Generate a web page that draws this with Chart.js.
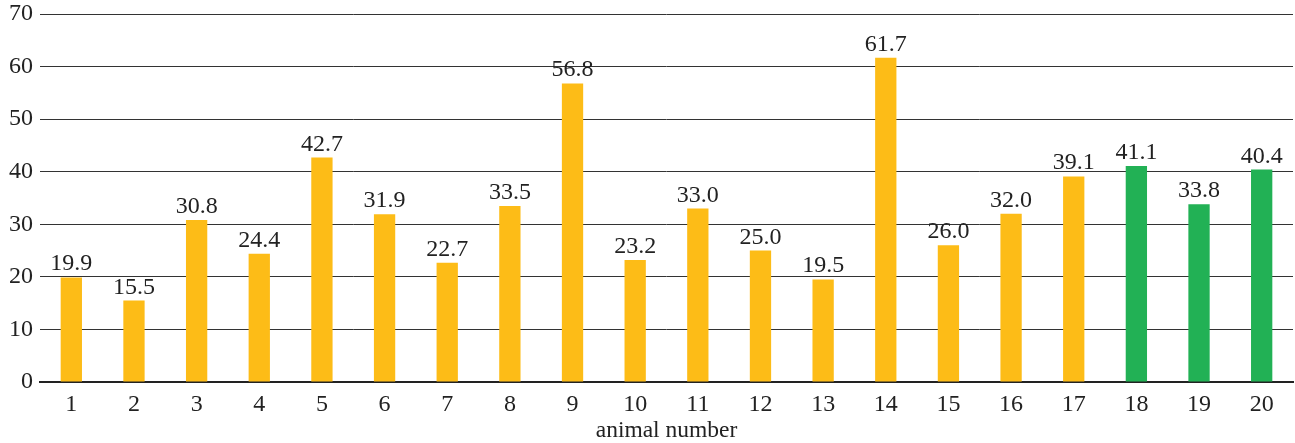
<!DOCTYPE html>
<html>
<head>
<meta charset="utf-8">
<script src="https://cdn.jsdelivr.net/npm/chart.js@4"></script>
<style>
  html, body { margin: 0; padding: 0; background: #fff; }
  #wrap { width: 1295px; height: 443px; }
</style>
</head>
<body>
<div id="wrap"><canvas id="chart"></canvas></div>
<script>
// datos
const animales = ['1', '2', '3', '4', '5', '6', '7', '8', '9', '10', '11', '12', '13', '14', '15', '16', '17', '18', '19', '20'];
const valores = [19.9, 15.5, 30.8, 24.4, 42.7, 31.9, 22.7, 33.5, 56.8, 23.2, 33.0, 25.0, 19.5, 61.7, 26.0, 32.0, 39.1, 41.1, 33.8, 40.4];
const grupos = ['y', 'y', 'y', 'y', 'y', 'y', 'y', 'y', 'y', 'y', 'y', 'y', 'y', 'y', 'y', 'y', 'y', 'g', 'g', 'g'];
const ticksY = [0, 10, 20, 30, 40, 50, 60, 70];

const colores = { y: '#FDBC17', g: '#22B155' };
const fuente = '"Liberation Serif", "Times New Roman", serif';

// etiquetas encima de cada barra
const etiquetas = {
    id: 'etiquetas',
    afterDatasetsDraw(chart) {
        const ctx = chart.ctx;
        const meta = chart.getDatasetMeta(0);
        ctx.save();
        ctx.font = '24px ' + fuente;
        ctx.fillStyle = '#222';
        ctx.textAlign = 'center';
        ctx.textBaseline = 'alphabetic';
        meta.data.forEach((bar, i) => {
            ctx.fillText(valores[i].toFixed(1), bar.x, bar.y - 7);
        });
        ctx.restore();
    }
};

new Chart(document.getElementById('chart'), {
    type: 'bar',
    data: {
        labels: animales,
        datasets: [{
            data: valores,
            backgroundColor: grupos.map(g => colores[g]),
            categoryPercentage: 1,
            barPercentage: 0.34
        }]
    },
    options: {
        responsive: true,
        maintainAspectRatio: false,
        animation: false,
        layout: { padding: { top: 14, right: 2, left: 0, bottom: 0 } },
        plugins: {
            legend: { display: false },
            tooltip: { enabled: false }
        },
        scales: {
            x: {
                grid: { display: false, drawTicks: false },
                border: { display: true, color: '#222', width: 2 },
                ticks: { color: '#222', font: { family: fuente, size: 24 }, padding: 8, maxRotation: 0 },
                title: { display: true, text: 'animal number', color: '#222', font: { family: fuente, size: 23.5, lineHeight: 1 }, padding: { top: 0, bottom: 0 } },
                afterFit(scale) { scale.height = 61; }
            },
            y: {
                min: 0,
                max: 70,
                afterBuildTicks(scale) { scale.ticks = ticksY.map(v => ({ value: v })); },
                grid: { color: '#333', lineWidth: 1, drawTicks: false },
                border: { display: false },
                ticks: { color: '#222', font: { family: fuente, size: 24 }, padding: 7 },
                afterFit(scale) { scale.width = 40; scale.paddingTop = 0; scale.paddingBottom = 0; }
            }
        }
    },
    plugins: [etiquetas]
});
</script>
</body>
</html>
